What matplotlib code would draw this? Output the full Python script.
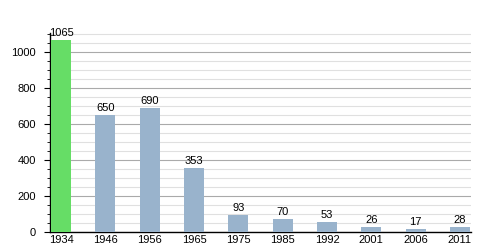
import matplotlib
matplotlib.use('Agg')
import matplotlib.pyplot as plt
from matplotlib.ticker import MultipleLocator

years = ['1934', '1946', '1956', '1965', '1975', '1985', '1992', '2001', '2006', '2011']
population = [1065, 650, 690, 353, 93, 70, 53, 26, 17, 28]

plt.rcParams['font.family'] = ['Liberation Sans', 'DejaVu Sans']

fig = plt.figure(figsize=(5, 2.5), dpi=100)
ax = fig.add_axes([0.1, 0.072, 0.842, 0.796])

colors = ['#66dd66'] + ['#99b3cc'] * (len(years) - 1)
x = list(range(len(years)))
ax.bar(x, population, width=0.45, color=colors, zorder=3)

for xi, v in zip(x, population):
    ax.text(xi, v + 12, str(v), ha='center', va='bottom', fontsize=8, zorder=4)

ax.set_xlim(-0.25, 9.25)
ax.set_ylim(0, 1105)
ax.set_xticks(x)
ax.set_xticklabels(years)
ax.yaxis.set_major_locator(MultipleLocator(200))
ax.yaxis.set_minor_locator(MultipleLocator(50))
ax.grid(which='major', axis='y', color='#aaaaaa', linewidth=0.8, zorder=0)
ax.grid(which='minor', axis='y', color='#e0e0e0', linewidth=0.8, zorder=0)

for s in ['top', 'right']:
    ax.spines[s].set_visible(False)
ax.spines['left'].set_linewidth(1)
ax.spines['bottom'].set_linewidth(1)
ax.tick_params(axis='x', length=0, labelsize=8, pad=2)
ax.tick_params(axis='y', which='major', length=4, labelsize=8, pad=6)
ax.tick_params(axis='y', which='minor', length=2)

fig.savefig('out.png')
